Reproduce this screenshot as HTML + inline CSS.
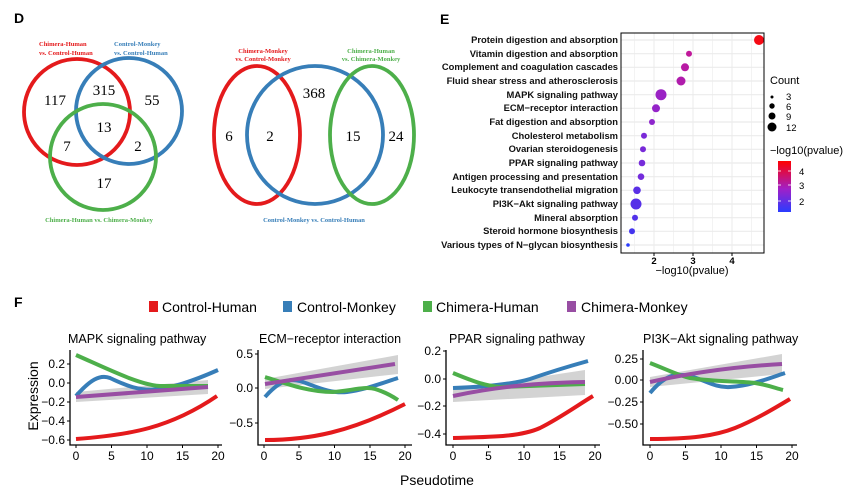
<!DOCTYPE html>
<html><head><meta charset="utf-8"><style>html,body{margin:0;padding:0;background:#fff}svg{display:block}</style></head>
<body>
<svg width="863" height="499" viewBox="0 0 863 499" xmlns="http://www.w3.org/2000/svg" font-family="Liberation Sans, sans-serif">
<!-- Panel D -->
<text x="14" y="23" font-size="14" font-weight="bold">D</text>
<g fill="none" stroke-width="3.8">
<circle cx="77" cy="112" r="53" stroke="#e41a1c"/>
<circle cx="129" cy="111" r="53" stroke="#377eb8"/>
<circle cx="103" cy="157" r="53" stroke="#4daf4a"/>
<ellipse cx="257" cy="135" rx="43" ry="69" stroke="#e41a1c"/>
<ellipse cx="315" cy="135" rx="68" ry="69" stroke="#377eb8"/>
<ellipse cx="372" cy="135" rx="42" ry="69" stroke="#4daf4a"/>
</g>
<g font-family="Liberation Serif, serif" font-size="6.5" font-weight="bold">
<text x="39" y="46" fill="#e41a1c">Chimera-Human</text>
<text x="39" y="55" fill="#e41a1c">vs. Control-Human</text>
<text x="114" y="46" fill="#377eb8">Control-Monkey</text>
<text x="114" y="55" fill="#377eb8">vs. Control-Human</text>
<text x="99" y="222" fill="#4daf4a" text-anchor="middle">Chimera-Human vs. Chimera-Monkey</text>
<text x="263" y="53" fill="#e41a1c" text-anchor="middle">Chimera-Monkey</text>
<text x="263" y="61" fill="#e41a1c" text-anchor="middle">vs. Control-Monkey</text>
<text x="371" y="53" fill="#4daf4a" text-anchor="middle">Chimera-Human</text>
<text x="371" y="61" fill="#4daf4a" text-anchor="middle">vs. Chimera-Monkey</text>
<text x="314" y="222" fill="#377eb8" text-anchor="middle">Control-Monkey vs. Control-Human</text>
</g>
<g font-family="Liberation Serif, serif" font-size="15" text-anchor="middle">
<text x="55" y="105">117</text><text x="104" y="95">315</text><text x="152" y="105">55</text>
<text x="104" y="132">13</text><text x="67" y="151">7</text><text x="138" y="151">2</text><text x="104" y="188">17</text>
<text x="229" y="141">6</text><text x="270" y="141">2</text><text x="314" y="98">368</text>
<text x="353" y="141">15</text><text x="396" y="141">24</text>
</g>
<!-- Panel E -->
<text x="440" y="24" font-size="14" font-weight="bold">E</text>
<defs><linearGradient id="cg" x1="0" y1="1" x2="0" y2="0"><stop offset="0" stop-color="#2a3cff"/><stop offset="0.45" stop-color="#a020c8"/><stop offset="1" stop-color="#ff0000"/></linearGradient></defs>
<g stroke="#ebebeb" stroke-width="1">
<line x1="634.5" y1="33" x2="634.5" y2="253" stroke-width="0.6"/><line x1="673.5" y1="33" x2="673.5" y2="253" stroke-width="0.6"/><line x1="712.5" y1="33" x2="712.5" y2="253" stroke-width="0.6"/><line x1="751.5" y1="33" x2="751.5" y2="253" stroke-width="0.6"/>
<line x1="654" y1="33" x2="654" y2="253"/><line x1="693" y1="33" x2="693" y2="253"/><line x1="732" y1="33" x2="732" y2="253"/>
</g>
<g font-size="9.4" font-weight="bold" text-anchor="end" fill="#111">
<text x="618" y="43">Protein digestion and absorption</text>
<text x="618" y="57">Vitamin digestion and absorption</text>
<text x="618" y="70">Complement and coagulation cascades</text>
<text x="618" y="84">Fluid shear stress and atherosclerosis</text>
<text x="618" y="98">MAPK signaling pathway</text>
<text x="618" y="111">ECM−receptor interaction</text>
<text x="618" y="125">Fat digestion and absorption</text>
<text x="618" y="139">Cholesterol metabolism</text>
<text x="618" y="152">Ovarian steroidogenesis</text>
<text x="618" y="166">PPAR signaling pathway</text>
<text x="618" y="180">Antigen processing and presentation</text>
<text x="618" y="193">Leukocyte transendothelial migration</text>
<text x="618" y="207">PI3K−Akt signaling pathway</text>
<text x="618" y="221">Mineral absorption</text>
<text x="618" y="234">Steroid hormone biosynthesis</text>
<text x="618" y="248">Various types of N−glycan biosynthesis</text>
</g>
<g stroke="#ebebeb" stroke-width="1.2">
<line x1="621" x2="764" y1="40" y2="40"/><line x1="621" x2="764" y1="53.7" y2="53.7"/><line x1="621" x2="764" y1="67.3" y2="67.3"/><line x1="621" x2="764" y1="81" y2="81"/><line x1="621" x2="764" y1="94.7" y2="94.7"/><line x1="621" x2="764" y1="108.3" y2="108.3"/><line x1="621" x2="764" y1="122" y2="122"/><line x1="621" x2="764" y1="135.7" y2="135.7"/><line x1="621" x2="764" y1="149.3" y2="149.3"/><line x1="621" x2="764" y1="163" y2="163"/><line x1="621" x2="764" y1="176.7" y2="176.7"/><line x1="621" x2="764" y1="190.3" y2="190.3"/><line x1="621" x2="764" y1="204" y2="204"/><line x1="621" x2="764" y1="217.7" y2="217.7"/><line x1="621" x2="764" y1="231.3" y2="231.3"/><line x1="621" x2="764" y1="245" y2="245"/>
</g>
<g>
<circle cx="759" cy="40" r="5" fill="#f50a14"/>
<circle cx="689" cy="53.7" r="3" fill="#c0189a"/>
<circle cx="685" cy="67.3" r="4" fill="#b81aa4"/>
<circle cx="681" cy="81" r="4.5" fill="#b01cac"/>
<circle cx="661" cy="94.7" r="5.5" fill="#9a22c4"/>
<circle cx="656" cy="108.3" r="4" fill="#9424c8"/>
<circle cx="652" cy="122" r="3" fill="#8e26cc"/>
<circle cx="644" cy="135.7" r="3" fill="#7a2ad8"/>
<circle cx="643" cy="149.3" r="3" fill="#782ad8"/>
<circle cx="642" cy="163" r="3.3" fill="#762cda"/>
<circle cx="641" cy="176.7" r="3.3" fill="#742cdc"/>
<circle cx="637" cy="190.3" r="3.8" fill="#5a30e6"/>
<circle cx="636" cy="204" r="5.5" fill="#5630e8"/>
<circle cx="635" cy="217.7" r="3" fill="#5232ea"/>
<circle cx="632" cy="231.3" r="3" fill="#4434ee"/>
<circle cx="628" cy="245" r="1.8" fill="#2a3cff"/>
</g>
<rect x="621" y="33" width="143" height="220" fill="none" stroke="#000" stroke-width="1"/>
<g stroke="#000"><line x1="654" y1="253" x2="654" y2="256"/><line x1="693" y1="253" x2="693" y2="256"/><line x1="732" y1="253" x2="732" y2="256"/></g>
<g font-size="9.5" font-weight="bold" text-anchor="middle"><text x="654" y="264">2</text><text x="693" y="264">3</text><text x="732" y="264">4</text></g>
<text x="692" y="274" font-size="11" text-anchor="middle">−log10(pvalue)</text>
<text x="770" y="84" font-size="11">Count</text>
<circle cx="772" cy="97" r="1.5"/><circle cx="772" cy="106" r="2.7"/><circle cx="772" cy="116" r="3.5"/><circle cx="772" cy="127" r="4.5"/>
<g font-size="9.5"><text x="786" y="100">3</text><text x="786" y="110">6</text><text x="786" y="120">9</text><text x="786" y="131">12</text>
<text x="799" y="175">4</text><text x="799" y="189">3</text><text x="799" y="205">2</text></g>
<text x="770" y="154" font-size="11">−log10(pvalue)</text>
<rect x="778" y="161" width="13" height="51" fill="url(#cg)"/>
<g stroke="#fff" stroke-width="0.8"><line x1="778" x2="781" y1="171" y2="171"/><line x1="788" x2="791" y1="171" y2="171"/><line x1="778" x2="781" y1="185" y2="185"/><line x1="788" x2="791" y1="185" y2="185"/><line x1="778" x2="781" y1="201" y2="201"/><line x1="788" x2="791" y1="201" y2="201"/></g>
<!-- Panel F -->
<text x="14" y="307" font-size="14" font-weight="bold">F</text>
<g font-size="14">
<rect x="149" y="301" width="9" height="11" fill="#e41a1c"/><text x="162" y="312">Control-Human</text>
<rect x="283" y="301" width="9" height="11" fill="#377eb8"/><text x="297" y="312">Control-Monkey</text>
<rect x="423" y="301" width="9" height="11" fill="#4daf4a"/><text x="436" y="312">Chimera-Human</text>
<rect x="567" y="301" width="9" height="11" fill="#984ea3"/><text x="581" y="312">Chimera-Monkey</text>
</g>
<g font-size="12.5">
<text x="68" y="343">MAPK signaling pathway</text>
<text x="259" y="343">ECM−receptor interaction</text>
<text x="449" y="343">PPAR signaling pathway</text>
<text x="643" y="343">PI3K−Akt signaling pathway</text>
</g>
<g fill="#c8c8c8" opacity="0.8">
<path d="M76,392 L208,380 L208,394 L76,402 Z"/>
<path d="M265,379 L398,355 L398,374 L265,389 Z"/>
<path d="M453,390 L585,370 L585,395 L453,402 Z"/>
<path d="M650,377 L782,354 L782,374 L650,387 Z"/>
</g>
<g fill="none" stroke-width="4" stroke-linecap="butt">
<path d="M76,439 C130,435 170,428 217,396" stroke="#e41a1c"/>
<path d="M76,396 C90,380 100,374 110,378 C125,385 140,392 160,389 C180,386 200,378 218,370" stroke="#377eb8"/>
<path d="M76,355 C110,370 140,385 160,386 L208,386" stroke="#4daf4a"/>
<path d="M76,397 L208,387" stroke="#984ea3"/>

<path d="M265,440 C310,440 350,432 405,404" stroke="#e41a1c"/>
<path d="M265,397 C278,382 288,378 300,381 C315,386 330,394 347,392 C365,390 385,382 398,378" stroke="#377eb8"/>
<path d="M265,377 C290,385 310,392 333,392 C350,391 365,386 375,389 C385,392 392,396 398,400" stroke="#4daf4a"/>
<path d="M265,384 L395,364" stroke="#984ea3"/>

<path d="M453,438 C490,437 520,437 540,428 C560,418 578,405 593,396" stroke="#e41a1c"/>
<path d="M453,388 C480,387 510,385 530,379 C550,372 570,366 588,361" stroke="#377eb8"/>
<path d="M453,373 C470,380 485,386 500,387 L585,384" stroke="#4daf4a"/>
<path d="M453,396 C490,388 530,383 585,382" stroke="#984ea3"/>

<path d="M650,439 C690,439 715,436 735,428 C755,420 775,408 790,399" stroke="#e41a1c"/>
<path d="M650,393 C665,375 675,373 690,376 C705,380 715,388 730,387 C750,386 770,378 785,373" stroke="#377eb8"/>
<path d="M650,363 C668,370 680,376 690,378 C715,382 740,381 755,383 C768,385 775,388 783,390" stroke="#4daf4a"/>
<path d="M650,382 C690,373 730,367 782,364" stroke="#984ea3"/>
</g>
<g stroke="#000" stroke-width="1.3" fill="none">
<path d="M70,350 V445 H222"/><path d="M258,350 V445 H412"/><path d="M446,350 V445 H600"/><path d="M643,350 V445 H797"/>
</g>
<g stroke="#000" stroke-width="1">
<path d="M67,364H70M67,383H70M67,402H70M67,421H70M67,440H70"/>
<path d="M76,445v3M111.5,445v3M147,445v3M182.5,445v3M218,445v3"/>
<path d="M255,354H258M255,388H258M255,423H258"/>
<path d="M264,445v3M299,445v3M334.5,445v3M370,445v3M405,445v3"/>
<path d="M443,351H446M443,379H446M443,406H446M443,434H446"/>
<path d="M453,445v3M488.5,445v3M524,445v3M559.5,445v3M595,445v3"/>
<path d="M640,359H643M640,380H643M640,402H643M640,424H643"/>
<path d="M650,445v3M685.5,445v3M721,445v3M756.5,445v3M792,445v3"/>
</g>
<g font-size="12" text-anchor="end">
<text x="65" y="368">0.2</text><text x="65" y="387">0.0</text><text x="65" y="406">−0.2</text><text x="65" y="425">−0.4</text><text x="65" y="444">−0.6</text>
<text x="253" y="358">0.5</text><text x="253" y="392">0.0</text><text x="253" y="427">−0.5</text>
<text x="441" y="355">0.2</text><text x="441" y="383">0.0</text><text x="441" y="410">−0.2</text><text x="441" y="438">−0.4</text>
<text x="638" y="363">0.25</text><text x="638" y="384">0.00</text><text x="638" y="406">−0.25</text><text x="638" y="428">−0.50</text>
</g>
<g font-size="12" text-anchor="middle">
<text x="76" y="460">0</text><text x="111.5" y="460">5</text><text x="147" y="460">10</text><text x="182.5" y="460">15</text><text x="218" y="460">20</text>
<text x="264" y="460">0</text><text x="299" y="460">5</text><text x="334.5" y="460">10</text><text x="370" y="460">15</text><text x="405" y="460">20</text>
<text x="453" y="460">0</text><text x="488.5" y="460">5</text><text x="524" y="460">10</text><text x="559.5" y="460">15</text><text x="595" y="460">20</text>
<text x="650" y="460">0</text><text x="685.5" y="460">5</text><text x="721" y="460">10</text><text x="756.5" y="460">15</text><text x="792" y="460">20</text>
</g>
<text x="0" y="0" font-size="14" text-anchor="middle" transform="translate(38,396) rotate(-90)">Expression</text>
<text x="437" y="485" font-size="14" text-anchor="middle">Pseudotime</text>
</svg>
</body></html>
